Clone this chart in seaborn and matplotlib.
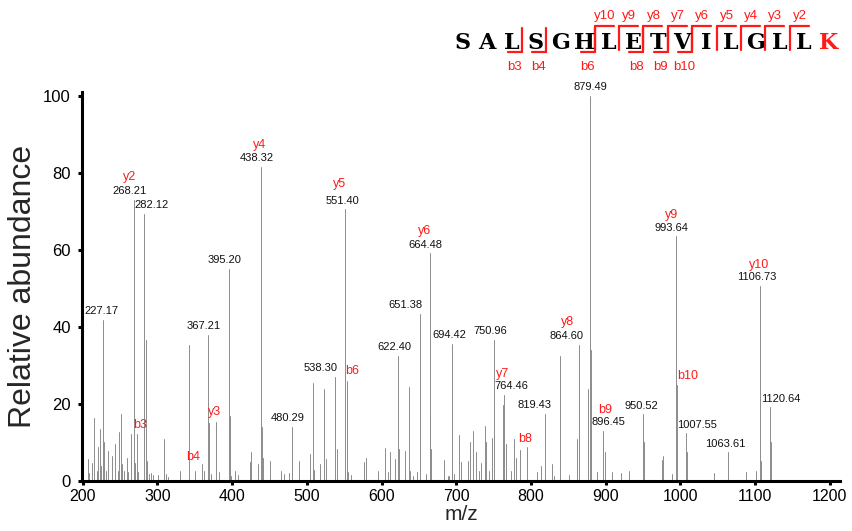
import numpy as np
import pandas as pd
import matplotlib
matplotlib.use("Agg")
import matplotlib.pyplot as plt
from matplotlib.lines import Line2D
import seaborn as sns

# ---------------- data ----------------
peak_mz = [206.4, 208.0, 211.8, 215.4, 218.5, 220.8, 223.0, 224.3, 227.17, 228.8, 231.0, 234.0,
           239.5, 243.0, 246.6, 249.0, 251.0, 253.0, 255.6, 258.6, 261.0, 264.4, 268.21, 269.8,
           272.16, 274.3, 282.12, 284.8, 286.4, 288.5, 292.0, 294.4, 301.0, 309.0, 312.0, 314.4,
           330.0, 342.0, 350.0, 359.19, 362.0, 367.21, 368.8, 372.0, 378.8, 382.0, 395.20, 396.6,
           398.5, 403.5, 408.0, 423.5, 425.7, 434.7, 438.32, 439.8, 441.3, 451.0, 465.7, 468.8,
           476.0, 480.29, 490.0, 503.6, 508.0, 509.5, 517.0, 522.5, 525.0, 538.30, 540.5, 551.40,
           553.27, 554.7, 559.0, 577.0, 579.0, 595.0, 605.0, 608.3, 611.8, 618.5, 622.40, 623.8,
           631.9, 636.4, 638.0, 641.7, 647.0, 651.38, 659.6, 664.48, 665.5, 666.6, 684.0, 688.6,
           690.8, 694.42, 697.5, 704.0, 706.4, 716.0, 718.3, 722.5, 726.0, 730.5, 732.8, 738.0,
           740.3, 744.0, 748.3, 750.96, 762.5, 764.46, 766.8, 773.0, 777.4, 779.6, 785.4, 795.39,
           808.6, 814.0, 819.43, 828.6, 831.0, 839.4, 851.0, 862.0, 864.60, 876.5, 879.49, 881.0,
           889.0, 896.45, 898.8, 908.0, 920.0, 931.5, 950.52, 951.5, 975.0, 977.2, 988.5, 993.64,
           995.5, 1007.55, 1009.5, 1045.0, 1063.61, 1088.0, 1101.0, 1106.73, 1108.5, 1120.64, 1121.8]
peak_int = [5.6, 2.2, 4.8, 16.3, 2.6, 8.7, 13.4, 3.9, 41.8, 10.0, 2.6, 7.8,
            6.5, 9.5, 2.6, 12.6, 17.3, 4.3, 2.6, 5.9, 2.4, 12.1, 73.0, 4.8,
            12.1, 2.4, 69.4, 36.6, 5.2, 1.9, 2.2, 1.5, 1.6, 10.8, 1.7, 1.0,
            2.6, 35.3, 2.6, 4.5, 2.6, 38.0, 15.0, 1.7, 15.2, 2.4, 55.0, 16.9,
            1.3, 2.6, 1.5, 5.0, 7.4, 4.3, 81.6, 13.9, 6.0, 5.2, 2.6, 1.7,
            2.2, 14.0, 5.2, 7.1, 25.5, 2.8, 4.3, 24.0, 5.6, 27.0, 8.2, 70.5,
            26.0, 2.4, 1.5, 5.0, 6.0, 2.6, 8.5, 2.4, 7.5, 5.6, 32.5, 8.2,
            7.8, 24.4, 2.6, 1.3, 2.4, 43.4, 1.7, 59.1, 16.5, 8.2, 5.4, 1.3,
            1.3, 35.6, 1.7, 12.0, 4.9, 5.2, 10.0, 13.0, 7.4, 2.6, 4.8, 14.3,
            10.0, 2.6, 11.1, 36.6, 19.7, 22.3, 9.5, 2.6, 10.8, 6.0, 8.0, 8.7,
            2.4, 3.9, 17.4, 4.5, 1.3, 32.5, 1.6, 11.0, 35.3, 24.0, 100.0, 34.0,
            2.3, 13.0, 7.4, 2.3, 2.0, 2.6, 17.3, 10.0, 5.5, 6.5, 1.7, 63.5,
            25.0, 12.4, 7.6, 2.0, 7.4, 2.3, 2.7, 50.7, 5.3, 19.1, 10.0]

label_mz = [227.17, 268.21, 282.12, 367.21, 395.20, 438.32, 480.29, 538.30, 551.40, 622.40,
            651.38, 664.48, 694.42, 750.96, 764.46, 819.43, 864.60, 879.49, 896.45, 950.52,
            993.64, 1007.55, 1063.61, 1106.73, 1120.64]
label_ion = ["", "y2", "", "", "", "y4", "", "", "y5", "",
             "", "y6", "", "", "y7", "", "y8", "", "b9", "",
             "y9", "", "", "y10", ""]

free_ion_names = ["b3", "b4", "y3", "b6", "b8", "b10"]
free_ion_mz = [272.16, 359.19, 378.8, 553.27, 795.39, 995.5]

sequence = "SALSGHLETVILGLLK"
b_ions = [3, 4, 6, 8, 9, 10]
y_ions = [10, 9, 8, 7, 6, 5, 4, 3, 2]

x_ticks = [200, 300, 400, 500, 600, 700, 800, 900, 1000, 1100, 1200]
y_ticks = [0, 20, 40, 60, 80, 100]

# ---------------- layout (pixel offsets) ----------------
label_dx_px = [-1.7, -3.9, 7.0, -4.3, -4.0, -4.0, -4.3, -14.7, -3.2, -4.2,
               -14.2, -3.9, -3.0, -3.6, 7.3, -10.9, -12.9, 0.5, 5.2, -2.1,
               -4.5, 10.6, -2.5, -2.8, 10.4]
label_dy_px = 8.7
ion_rel_px = {"y2": (0.2, 14), "y4": (2.6, 12.7), "y5": (-2.7, 17.0), "y6": (-1.5, 14),
              "y7": (-9.4, 12.3), "y8": (1.2, 14), "b9": (-3.4, 12.7), "y9": (1.0, 13),
              "y10": (2.3, 12)}
free_ion_off_px = [(3.1, 9.4), (-8.6, 6.7), (-1.3, 10.8), (5.7, 10.1), (-2.7, 8.3), (10.9, 8.6)]

W, H = 853, 531
RED = "#ff1a1a"
PT = 0.72  # points per pixel at 100 dpi

sns.set_theme(style="ticks")
plt.rcParams["font.family"] = ["Liberation Sans", "DejaVu Sans"]

fig = plt.figure(figsize=(W / 100, H / 100), dpi=100)
ax = fig.add_axes([82 / W, 50 / H, (840 - 82) / W, (481 - 92) / H])

# spectrum peaks as vertical segments via seaborn
rows = []
for i, (m, h) in enumerate(zip(peak_mz, peak_int)):
    rows.append({"mz": m, "intensity": 0.0, "peak": i})
    rows.append({"mz": m, "intensity": h, "peak": i})
df = pd.DataFrame(rows)
sns.lineplot(data=df, x="mz", y="intensity", units="peak", estimator=None, sort=False,
             color="#8c8c8c", lw=0.7, ax=ax, legend=False)

ax.set_xlim(199.0, 1213.8)
ax.set_ylim(0, 101)
ax.set_xticks(x_ticks)
ax.set_yticks(y_ticks)
sns.despine(ax=ax)
for s in ["left", "bottom"]:
    ax.spines[s].set_linewidth(2.2)
    ax.spines[s].set_color("black")
ax.tick_params(axis="both", direction="out", length=3, width=2.2, color="black",
               labelcolor="black")
ax.tick_params(axis="x", pad=3, labelsize=11.5)
ax.tick_params(axis="y", pad=5, labelsize=12)
ax.set_xlabel("m/z", fontsize=15)
ax.set_ylabel("Relative abundance", fontsize=23)
ax.xaxis.set_label_coords(0.5, -0.062)
ax.yaxis.set_label_coords(-0.058, 0.5)

lookup = dict(zip(peak_mz, peak_int))

# numeric labels and ion labels above peaks
for m, ion, dx in zip(label_mz, label_ion, label_dx_px):
    h = lookup[m]
    ax.annotate(f"{m:.2f}", xy=(m, h), xytext=(dx * PT, label_dy_px * PT),
                textcoords="offset points", ha="center", va="center",
                fontsize=8, color="#111111", annotation_clip=False)
    if ion:
        rdx, rdy = ion_rel_px[ion]
        ax.annotate(ion, xy=(m, h), xytext=((dx + rdx) * PT, (label_dy_px + rdy) * PT),
                    textcoords="offset points", ha="center", va="center",
                    fontsize=9, color=RED, annotation_clip=False)

for name, m, (dx, dy) in zip(free_ion_names, free_ion_mz, free_ion_off_px):
    h = lookup[m]
    ax.annotate(name, xy=(m, h), xytext=(dx * PT, dy * PT), textcoords="offset points",
                ha="center", va="center", fontsize=9, color=RED, annotation_clip=False)

# ---------------- peptide header ----------------
def fx(x):
    return x / W


def fy(y):
    return 1 - y / H


x0, pitch = 462.7, 24.37
for i, ch in enumerate(sequence):
    fig.text(fx(x0 + pitch * i), fy(43), ch, ha="center", va="center",
             family=["DejaVu Serif"], fontweight="bold", fontsize=16,
             color=RED if i == len(sequence) - 1 else "black")

n = len(sequence)
top_y, bot_y = 26.0, 51.5
for k in b_ions:
    bx = x0 + pitch * (k - 1) + pitch / 2 - 2
    fig.add_artist(Line2D([fx(bx), fx(bx)], [fy(top_y + 2), fy(bot_y)], color=RED, lw=1.6,
                          transform=fig.transFigure))
    fig.add_artist(Line2D([fx(bx - 14), fx(bx)], [fy(bot_y), fy(bot_y)], color=RED, lw=1.6,
                          transform=fig.transFigure))
    fig.text(fx(bx - 7.5), fy(66.5), f"b{k}", ha="center", va="center", fontsize=9.5, color=RED)
for k in y_ions:
    bx = x0 + pitch * (n - k - 1) + pitch / 2 - 2
    fig.add_artist(Line2D([fx(bx), fx(bx)], [fy(top_y), fy(bot_y - 2)], color=RED, lw=1.6,
                          transform=fig.transFigure))
    fig.add_artist(Line2D([fx(bx), fx(bx + 19)], [fy(top_y), fy(top_y)], color=RED, lw=1.6,
                          transform=fig.transFigure))
    fig.text(fx(bx + 10), fy(16.5), f"y{k}", ha="center", va="center", fontsize=9.5, color=RED)

fig.savefig("out.png", dpi=100)
